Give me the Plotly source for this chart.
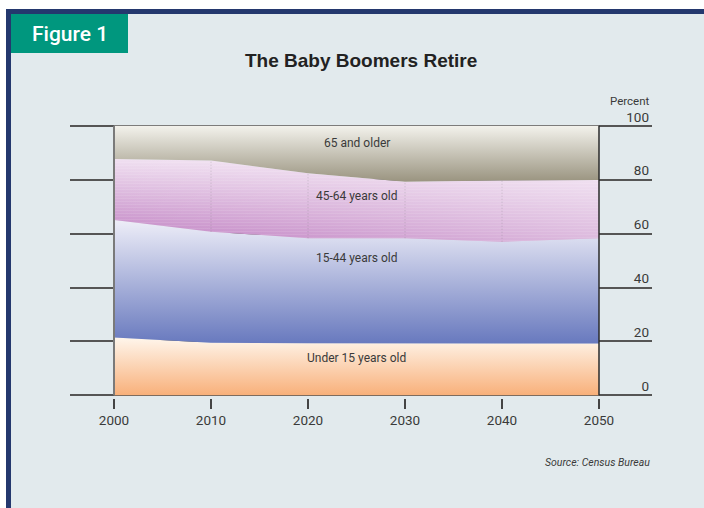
import plotly.graph_objects as go

# Population shares by age group (percent), census projections
years = [2000, 2010, 2020, 2030, 2040, 2050]
under_15 = [21.5, 19.5, 19.3, 19.3, 19.3, 19.2]
age_15_44 = [43.6, 41.2, 39.0, 39.0, 37.7, 39.1]
age_45_64 = [22.6, 26.4, 24.1, 21.0, 22.7, 21.6]
age_65_up = [12.3, 12.9, 17.6, 20.7, 20.3, 20.1]

group_names = ["Under 15 years old", "15-44 years old", "45-64 years old", "65 and older"]
label_y = [13.8, 50.9, 74.0, 93.7]
y_ticks = [0, 20, 40, 60, 80, 100]

W, H = 704, 508
ML, MR, MT, MB = 70, 52, 107, 110

SANS = "Roboto, Lato, sans-serif"
TEXT = "#3a3a3a"

# running totals give the band boundaries
def cumulate(*series):
    out, run = [], [0.0] * len(years)
    for s in series:
        run = [a + b for a, b in zip(run, s)]
        out.append(run)
    return out

bounds = cumulate(under_15, age_15_44, age_45_64, age_65_up)

# gradient colours per band: (bottom, top)
grad = [
    ("#f8b07a", "#fff6ec"),
    ("#6879be", "#eeeef8"),
    ("#c080c2", "#f0e0f1"),
    ("#9a9480", "#f3f2ec"),
]

fig = go.Figure()
lower = [0.0] * len(years)
for i, (name, upper) in enumerate(zip(group_names, bounds)):
    fig.add_trace(go.Scatter(
        x=years, y=upper, name=name, mode="lines",
        line=dict(width=0, color=grad[i][0]),
        fill="tozeroy" if i == 0 else "tonexty",
        fillgradient=dict(type="vertical", start=min(lower), stop=max(upper),
                          colorscale=[[0, grad[i][0]], [1, grad[i][1]]]),
        hoverinfo="skip", showlegend=False,
    ))
    lower = upper

lo45, hi45 = bounds[1], bounds[2]
band45_x = years + years[::-1]
band45_y = hi45 + lo45[::-1]

# the 45-64 band fades towards the later decades
fig.add_trace(go.Scatter(
    x=band45_x, y=band45_y, mode="lines", line=dict(width=0), fill="toself",
    fillgradient=dict(type="horizontal", start=years[0], stop=years[-1],
                      colorscale=[[0, "rgba(255,255,255,0)"], [1, "rgba(255,255,255,0.45)"]]),
    hoverinfo="skip", showlegend=False,
))

# fine line texture over the 45-64 band
fig.add_trace(go.Scatter(
    x=band45_x, y=band45_y, mode="lines",
    line=dict(width=0), fill="toself", fillcolor="rgba(0,0,0,0)",
    fillpattern=dict(shape="-", size=3, solidity=0.25,
                     fgcolor="rgba(255,255,255,0.12)", fillmode="replace"),
    hoverinfo="skip", showlegend=False,
))

# faint dotted decade markers across the 45-64 band
for k in range(1, len(years) - 1):
    fig.add_trace(go.Scatter(
        x=[years[k], years[k]], y=[lo45[k], hi45[k]], mode="lines",
        line=dict(color="rgba(100,100,105,0.28)", width=1, dash="1px,2px"),
        hoverinfo="skip", showlegend=False,
    ))

# band labels
for name, yv in zip(group_names, label_y):
    fig.add_annotation(x=2025, y=yv, text=name, showarrow=False,
                       font=dict(family=SANS, size=12, color=TEXT))

# pixel helpers for paper-referenced decorations
def px(xp):
    return (xp - ML) / (W - ML - MR)

def py(yp):
    return (H - MB - yp) / (H - MT - MB)

shapes = [
    # navy frame and panel
    dict(type="rect", xref="paper", yref="paper", x0=px(6), x1=px(730), y0=py(9), y1=py(530),
         fillcolor="#24386e", line=dict(width=0), layer="below"),
    dict(type="rect", xref="paper", yref="paper", x0=px(11), x1=px(730), y0=py(14), y1=py(530),
         fillcolor="#e2eaed", line=dict(width=0), layer="below"),
    # figure badge
    dict(type="rect", xref="paper", yref="paper", x0=px(11), x1=px(128), y0=py(14), y1=py(53),
         fillcolor="#00977e", line=dict(width=0), layer="below"),
    # chart edges at first and last year
    dict(type="line", xref="x", yref="y", x0=years[0], x1=years[0], y0=0, y1=100,
         line=dict(color="#7a7a7a", width=2), layer="above"),
    dict(type="line", xref="x", yref="y", x0=years[-1], x1=years[-1], y0=0, y1=100,
         line=dict(color="#2a2a2a", width=1.5), layer="above"),
]

fig.add_annotation(xref="paper", yref="paper", x=px(70), y=py(34), text="Figure 1",
                   showarrow=False, xanchor="center", yanchor="middle",
                   font=dict(family=SANS, size=21, color="white", weight=500))
fig.add_annotation(xref="paper", yref="paper", x=px(361), y=py(61), text="The Baby Boomers Retire",
                   showarrow=False, xanchor="center", yanchor="middle",
                   font=dict(family="Liberation Sans, Arial, sans-serif", size=19, color="#222222", weight="bold"))
fig.add_annotation(xref="paper", yref="paper", x=px(652), y=py(101), text="Percent",
                   showarrow=False, xanchor="right", yanchor="middle",
                   font=dict(family=SANS, size=11.5, color=TEXT))
fig.add_annotation(xref="paper", yref="paper", x=px(652), y=py(462), text="<i>Source: Census Bureau</i>",
                   showarrow=False, xanchor="right", yanchor="middle",
                   font=dict(family=SANS, size=10.5, color=TEXT))

px_per_year = 485 / (years[-1] - years[0])
x_lo = years[0] - (114 - ML) / px_per_year
x_hi = years[-1] + ((W - MR) - 599) / px_per_year

fig.update_layout(
    width=W, height=H,
    margin=dict(l=ML, r=MR, t=MT, b=MB, pad=0),
    paper_bgcolor="white", plot_bgcolor="rgba(0,0,0,0)",
    shapes=shapes,
    xaxis=dict(range=[x_lo, x_hi], tickvals=years, ticktext=[str(y) for y in years],
               showgrid=False, zeroline=False, showline=False,
               ticks="outside", ticklen=10, tickwidth=1.5, tickcolor="#444444",
               tickfont=dict(family=SANS, size=13.5, color=TEXT), fixedrange=True),
    yaxis=dict(range=[-1, 107], tickvals=y_ticks, side="right",
               ticklabelposition="inside", ticklabelshift=-9, ticklabelstandoff=0,
               showgrid=True, gridcolor="#555555", gridwidth=1.5,
               zeroline=False, showline=False, ticks="",
               tickfont=dict(family=SANS, size=13.5, color=TEXT), fixedrange=True),
    showlegend=False,
)

fig.write_html("out.html")
